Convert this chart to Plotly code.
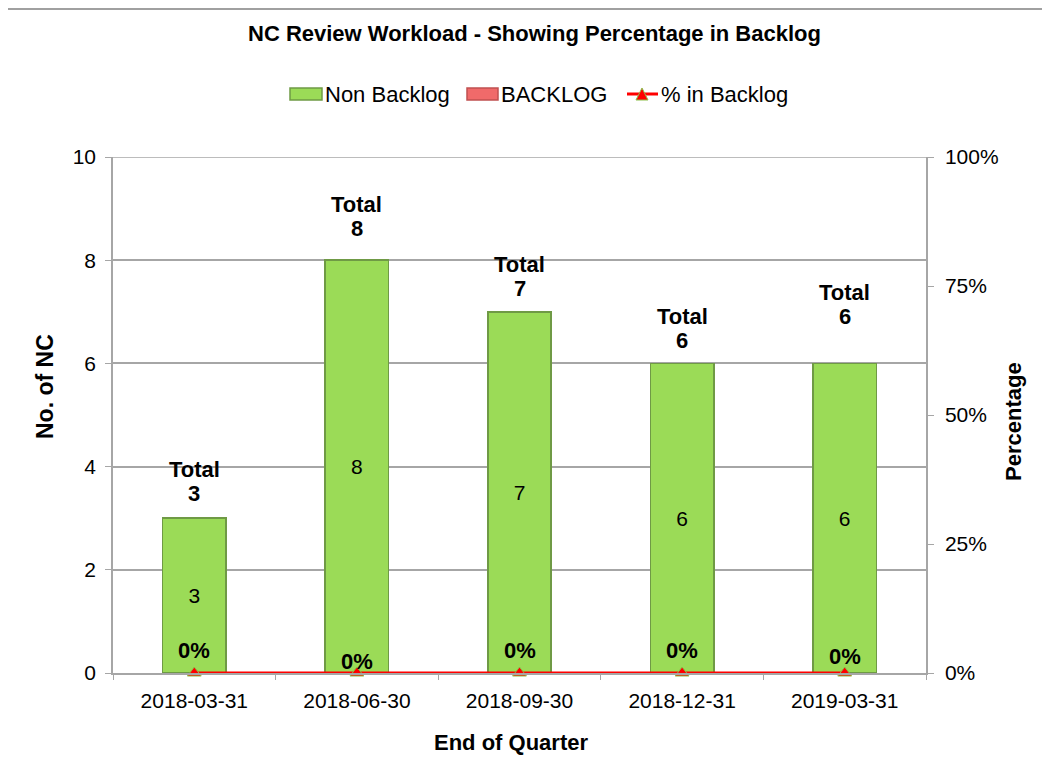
import plotly.graph_objects as go

quarters = ["2018-03-31", "2018-06-30", "2018-09-30", "2018-12-31", "2019-03-31"]
non_backlog = [3, 8, 7, 6, 6]
backlog = [0, 0, 0, 0, 0]
pct_backlog = [0.0, 0.0, 0.0, 0.0, 0.0]
totals = [a + b for a, b in zip(non_backlog, backlog)]

# label offsets (pixels) as placed in the original chart
total_label_shift = [25, 32, 23, 23, 47]
pct_label_shift = [23, 12, 23, 23, 17]

FONT = "Liberation Sans, Arial, sans-serif"
GRID = "#a6a6a6"
GREEN = "#9bdb57"
GREEN_EDGE = "#6f9a45"
RED = "#f06a6a"

# page offset (body margin) and plot-area pixel frame of the reference
OFF = 8
W, H = 1050 - OFF, 765 - OFF
PL, PR, PT, PB = 113, 926, 157, 673


def px(x):
    return (x - PL) / (PR - PL)


def py(y):
    return (PB - y) / (PB - PT)


fig = go.Figure()
fig.add_trace(go.Bar(
    x=quarters, y=non_backlog, name="Non Backlog",
    marker=dict(color=GREEN, line=dict(color=GREEN_EDGE, width=1.5)),
    text=[str(v) for v in non_backlog], textposition="inside",
    insidetextanchor="middle",
    textfont=dict(size=21, color="black", family=FONT),
    width=0.39, showlegend=False,
))
fig.add_trace(go.Bar(
    x=quarters, y=backlog, name="BACKLOG",
    marker=dict(color=RED, line=dict(width=0)),
    width=0.39, textposition="none", showlegend=False,
))
fig.add_trace(go.Scatter(
    x=quarters, y=pct_backlog, name="% in Backlog", yaxis="y2",
    mode="lines+markers",
    line=dict(color="#ff0000", width=3),
    marker=dict(symbol="triangle-up", size=12, color="#ff0000",
                line=dict(color="#8cbf4a", width=1)),
    cliponaxis=False, showlegend=False,
))

annotations = []
for q, t, s in zip(quarters, totals, total_label_shift):
    annotations.append(dict(
        x=q, y=t, xref="x", yref="y", text="<b>%d</b>" % t,
        showarrow=False, yanchor="middle", yshift=s,
        font=dict(size=22, color="black", family=FONT),
    ))
    annotations.append(dict(
        x=q, y=t, xref="x", yref="y", text="<b>Total</b>",
        showarrow=False, yanchor="middle", yshift=s + 24,
        font=dict(size=22, color="black", family=FONT),
    ))
for q, p, s in zip(quarters, pct_backlog, pct_label_shift):
    annotations.append(dict(
        x=q, y=p, xref="x", yref="y2", text="<b>%d%%</b>" % round(p * 100),
        showarrow=False, yanchor="middle", yshift=s,
        font=dict(size=22, color="black", family=FONT),
    ))

# title and axis titles
annotations += [
    dict(x=px(534), y=py(33), xref="paper", yref="paper", showarrow=False,
         text="<b>NC Review Workload - Showing Percentage in Backlog</b>",
         font=dict(size=22, family=FONT, color="black"),
         xanchor="center", yanchor="middle"),
    dict(x=px(511), y=py(742), xref="paper", yref="paper", showarrow=False,
         text="<b>End of Quarter</b>", font=dict(size=22, family=FONT, color="black"),
         xanchor="center", yanchor="middle"),
    dict(x=px(45), y=py(387), xref="paper", yref="paper", showarrow=False,
         text="<b>No. of NC</b>", textangle=-90,
         font=dict(size=23, family=FONT, color="black"),
         xanchor="center", yanchor="middle"),
    dict(x=px(1013), y=py(422), xref="paper", yref="paper", showarrow=False,
         text="<b>Percentage</b>", textangle=-90,
         font=dict(size=22, family=FONT, color="black"),
         xanchor="center", yanchor="middle"),
]

# custom legend (wide bar swatches as in the original)
legend_items = [("Non Backlog", 290, 322), ("BACKLOG", 467, 498), ("% in Backlog", 627, 658)]
for label, x0, x1 in legend_items:
    annotations.append(dict(
        x=px(x1 + 1), y=py(94), xref="paper", yref="paper", showarrow=False,
        text=label, font=dict(size=22, family=FONT, color="black"),
        xanchor="left", yanchor="middle",
    ))

shapes = [
    # chart border
    dict(type="rect", xref="paper", yref="paper",
         x0=px(7), x1=px(1080), y0=py(800), y1=py(9),
         line=dict(color="#a0a0a0", width=2), layer="below"),
    # top gridline at 10
    dict(type="line", xref="paper", yref="y", x0=px(107), x1=px(932), y0=10, y1=10,
         line=dict(color=GRID, width=1.5), layer="below"),
    # legend swatches
    dict(type="rect", xref="paper", yref="paper", x0=px(290), x1=px(322),
         y0=py(100), y1=py(88), fillcolor=GREEN, line=dict(color=GREEN_EDGE, width=1.5)),
    dict(type="rect", xref="paper", yref="paper", x0=px(467), x1=px(498),
         y0=py(100), y1=py(88), fillcolor=RED, line=dict(color="#c05050", width=1.5)),
    dict(type="line", xref="paper", yref="paper", x0=px(627), x1=px(658),
         y0=py(94), y1=py(94), line=dict(color="#ff0000", width=3)),
    dict(type="path", xref="paper", yref="paper",
         path="M %f,%f L %f,%f L %f,%f Z" % (px(636), py(100), px(648), py(100), px(642), py(88)),
         fillcolor="#ff0000", line=dict(color="#8cbf4a", width=1)),
]

fig.update_layout(
    width=W, height=H,
    paper_bgcolor="white", plot_bgcolor="white",
    margin=dict(l=PL - OFF, r=OFF + W - PR, t=PT - OFF, b=OFF + H - PB, pad=0),
    barmode="stack",
    font=dict(family=FONT, size=21, color="black"),
    showlegend=False,
    xaxis=dict(
        type="category", showline=True, linecolor=GRID, linewidth=1.5,
        ticks="outside", tickson="boundaries", ticklen=5, tickcolor=GRID,
        tickfont=dict(size=21), showgrid=False, ticklabelstandoff=8,
    ),
    yaxis=dict(
        range=[0, 10], dtick=2, showgrid=True, gridcolor=GRID, gridwidth=1.5,
        showline=True, linecolor=GRID, linewidth=1.5,
        ticks="outside", ticklen=6, tickcolor=GRID, tickfont=dict(size=21),
        zeroline=False, ticklabelstandoff=5,
    ),
    yaxis2=dict(
        overlaying="y", side="right", range=[0, 1], dtick=0.25,
        tickformat=".0%", showgrid=False,
        showline=True, linecolor=GRID, linewidth=1.5,
        ticks="outside", ticklen=6, tickcolor=GRID, tickfont=dict(size=21),
        zeroline=False, ticklabelstandoff=7,
    ),
    annotations=annotations,
    shapes=shapes,
)

fig.write_html("out.html")
